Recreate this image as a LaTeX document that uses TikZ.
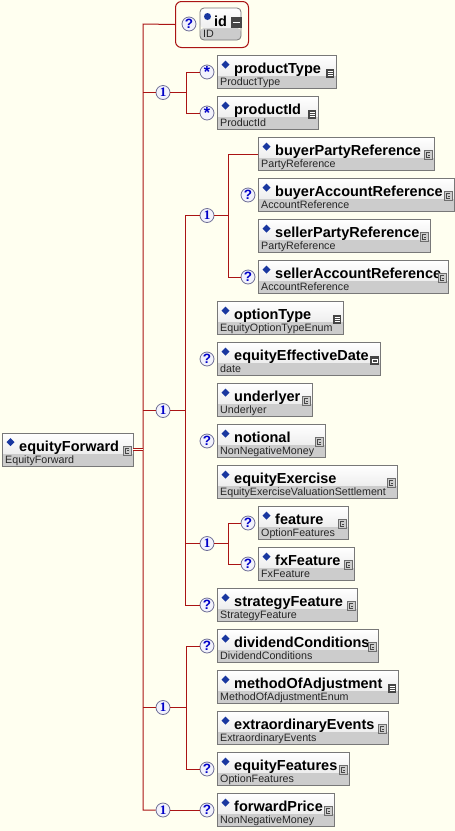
\documentclass[tikz,border=0pt]{standalone}
\usepackage{fontspec}
\setmainfont{Liberation Sans}
\newfontfamily\serifb{Liberation Serif}
\usetikzlibrary{calc}
\definecolor{bg}{RGB}{255,255,240}
\definecolor{wirered}{RGB}{170,20,20}
\definecolor{boxline}{RGB}{120,120,120}
\definecolor{typegrey}{RGB}{204,204,204}
\definecolor{topgrey}{RGB}{238,238,238}
\definecolor{dblue}{RGB}{25,55,160}
\definecolor{circfill}{RGB}{242,242,252}
\definecolor{circline}{RGB}{110,110,150}
\definecolor{symblue}{RGB}{0,0,200}
\definecolor{icondark}{RGB}{70,70,70}
\definecolor{iconfill}{RGB}{205,205,205}
\definecolor{icondraw}{RGB}{110,110,110}
\tikzset{
  wireln/.style={draw=wirered, line width=1pt},
  elbox/.style={draw=boxline, line width=0.8pt, minimum height=33pt, inner sep=0pt, outer sep=0pt,
    path picture={
      \fill[typegrey] ($(path picture bounding box.north west)+(0,20)$) rectangle (path picture bounding box.south east);
      \shade[top color=white, bottom color=topgrey] (path picture bounding box.north west) rectangle ($(path picture bounding box.north east)+(0,20)$);
    }},
  titletext/.style={anchor=base west, inner sep=0pt, font=\fontsize{14.5}{15}\selectfont\bfseries},
  typetext/.style={anchor=base west, inner sep=0pt, text=black!85, font=\fontsize{10.7}{11}\selectfont},
  seqc/.style={circle, minimum size=14pt, inner sep=0pt, fill=circfill, draw=circline, line width=0.8pt, text=symblue, font=\serifb\bfseries\fontsize{13}{13}\selectfont},
  optc/.style={seqc, font=\bfseries\fontsize{13.5}{13.5}\selectfont},
  cicon/.pic={
    \filldraw[fill=iconfill, draw=icondraw, line width=0.6pt] (0,0) rectangle (8,9);
    \draw[icondark, line width=0.6pt] (6,2) -- (2.5,2) -- (2.5,7) -- (6,7);
    \draw[icondark, line width=0.6pt] (4,4.5) -- (6,4.5);
  },
  sicon/.pic={
    \fill[icondark] (0,0) rectangle (8,9);
    \foreach \yy in {2.5,4.5,6.5} \draw[white, line width=0.7pt] (1.5,\yy) -- (6.5,\yy);
  },
  dicon/.pic={
    \fill[icondark] (0,0) rectangle (9,9);
    \draw[white, line width=0.6pt] (2,4) rectangle (7,7);
  }
}
\newcommand{\elem}[7]{%
  \node[elbox, minimum width=#4pt, anchor=north west] (#1) at (#2,#3) {};
  \fill[dblue] ($(#1.north west)+(8.5,5)$) -- ++(4,4) -- ++(-4,4) -- ++(-4,-4) -- cycle;
  \node[titletext] at ($(#1.north west)+(17,18)$) {#5};
  \node[typetext] at ($(#1.north west)+(3,30)$) {#6};
  \pic at ($(#1.north east)+(-10,13)$) {#7};
}
\begin{document}
\begin{tikzpicture}[x=1pt,y=-1pt]
\useasboundingbox (0,0) rectangle (455,831);
\fill[bg] (0,0) rectangle (455,831);

% id group
\node[draw=wirered, line width=1pt, rounded corners=6pt, minimum width=73pt, minimum height=46pt, anchor=north west, inner sep=0pt] (idgroup) at (175,1) {};
\node[optc] (qid) at (189,24) {?};
\node[elbox, rounded corners=4pt, minimum width=41pt, minimum height=32pt, anchor=north west] (id) at (200,8) {};
\fill[dblue] ($(id.north west)+(7.5,8.5)$) circle (3.5);
\node[titletext] at ($(id.north west)+(14,18)$) {id};
\node[typetext] at ($(id.north west)+(3,29)$) {ID};
\fill[icondark] ($(id.north east)+(-10,9)$) rectangle ($(id.north east)+(1,20)$);
\draw[white, line width=1pt] ($(id.north east)+(-8,14.5)$) -- ($(id.north east)+(-1,14.5)$);

% elements
\elem{ef}{2}{433}{131}{equityForward}{EquityForward}{cicon}
\elem{pt}{217}{55.5}{119}{productType}{ProductType}{sicon}
\elem{pid}{217}{96.5}{101}{productId}{ProductId}{sicon}
\elem{bpr}{258}{137.5}{176}{buyerPartyReference}{PartyReference}{cicon}
\elem{bar}{258}{178.5}{196}{buyerAccountReference}{AccountReference}{cicon}
\elem{spr}{258}{219.5}{172}{sellerPartyReference}{PartyReference}{cicon}
\elem{sar}{258}{260.5}{190}{sellerAccountReference}{AccountReference}{cicon}
\elem{ot}{217}{301.5}{126}{optionType}{EquityOptionTypeEnum}{sicon}
\elem{eed}{217}{342.5}{163}{equityEffectiveDate}{date}{dicon}
\elem{und}{217}{383.5}{95}{underlyer}{Underlyer}{cicon}
\elem{ntl}{217}{424.5}{108}{notional}{NonNegativeMoney}{cicon}
\elem{eex}{217}{465.5}{180}{equityExercise}{EquityExerciseValuationSettlement}{cicon}
\elem{fea}{258}{506.5}{90}{feature}{OptionFeatures}{cicon}
\elem{fxf}{258}{547.5}{96}{fxFeature}{FxFeature}{cicon}
\elem{stf}{217}{588.5}{140}{strategyFeature}{StrategyFeature}{cicon}
\elem{dvc}{217}{629.5}{161}{dividendConditions}{DividendConditions}{cicon}
\elem{moa}{217}{670.5}{181}{methodOfAdjustment}{MethodOfAdjustmentEnum}{sicon}
\elem{exe}{217}{711.5}{171}{extraordinaryEvents}{ExtraordinaryEvents}{cicon}
\elem{eqf}{217}{752.5}{132}{equityFeatures}{OptionFeatures}{cicon}
\elem{fwp}{217}{793.5}{117}{forwardPrice}{NonNegativeMoney}{cicon}

% occurrence circles
\node[optc] (kpt) at ($(pt.west)+(-10,0)$) {\raisebox{-3.5pt}{\fontsize{16}{16}\selectfont *}};
\node[optc] (kpid) at ($(pid.west)+(-10,0)$) {\raisebox{-3.5pt}{\fontsize{16}{16}\selectfont *}};
\foreach \n in {bar,sar,eed,ntl,fea,fxf,stf,dvc,eqf,fwp}
  \node[optc] (q\n) at ($(\n.west)+(-10,0)$) {?};

% sequence circles
\node[seqc] (sA) at (163,92.5) {1};
\node[seqc] (sB) at (207,215.5) {1};
\node[seqc] (sC) at (163,410.5) {1};
\node[seqc] (sD) at (207,543.5) {1};
\node[seqc] (sE) at (163,707.5) {1};
\node[seqc] (sF) at (163,810) {1};

% junctions
\coordinate (jA) at (186,92.5);
\coordinate (jB) at (228,215.5);
\coordinate (jC) at (185,410.5);
\coordinate (jD) at (228,543.5);
\coordinate (jE) at (186,707.5);
\coordinate (trT) at (143,24);
\coordinate (trB) at (143,810);

% connectors
\draw[wireln] (idgroup.west) -- (trT) -- (trB) -- (sF);
\draw[wireln] (trT |- sA) -- (sA);
\draw[wireln] (trT |- sC) -- (sC);
\draw[wireln] (trT |- sE) -- (sE);
\draw[wireln, double=bg, double distance=1.4pt] (ef.east) -- (trT |- ef.east);

\draw[wireln] (sA) -- (jA);
\draw[wireln] (kpt) -| (jA);
\draw[wireln] (kpid) -| (jA);

\draw[wireln] (sC) -- (jC);
\draw[wireln] (sB) -| (jC);
\draw[wireln] (qstf) -| (jC);

\draw[wireln] (sB) -- (jB);
\draw[wireln] (bpr) -| (jB);
\draw[wireln] (qsar) -| (jB);

\draw[wireln] (sD) -- (jC |- sD);
\draw[wireln] (sD) -- (jD);
\draw[wireln] (qfea) -| (jD);
\draw[wireln] (qfxf) -| (jD);

\draw[wireln] (sE) -- (jE);
\draw[wireln] (qdvc) -| (jE);
\draw[wireln] (qeqf) -| (jE);

\draw[wireln] (sF) -- (qfwp);
\end{tikzpicture}
\end{document}
